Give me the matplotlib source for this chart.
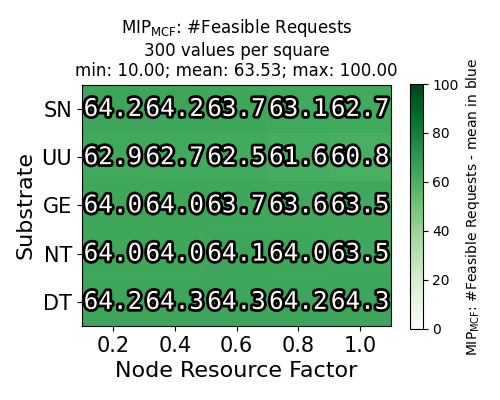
import numpy as np
import matplotlib
matplotlib.use("Agg")
import matplotlib.pyplot as plt
import matplotlib.patheffects as pe

# values (rows top to bottom)
substrates = ["SN", "UU", "GE", "NT", "DT"]
node_factors = ["0.2", "0.4", "0.6", "0.8", "1.0"]
mean_values = np.array([
    [64.2, 64.2, 63.7, 63.1, 62.7],
    [62.9, 62.7, 62.5, 61.6, 60.8],
    [64.0, 64.0, 63.7, 63.6, 63.5],
    [64.0, 64.0, 64.1, 64.0, 63.5],
    [64.2, 64.3, 64.3, 64.2, 64.3],
])
title_lines = [
    r"MIP$_{\mathrm{MCF}}$: #Feasible Requests",
    "300 values per square",
    "min: 10.00; mean: 63.53; max: 100.00",
]
cbar_label = r"MIP$_{\mathrm{MCF}}$: #Feasible Requests - mean in blue"


def main():
    fig = plt.figure(figsize=(5, 4), dpi=100)
    ax = fig.add_axes([0.164, 0.185, 0.618, 0.603])
    cax = fig.add_axes([0.82, 0.178, 0.025, 0.612])

    n_rows, n_cols = mean_values.shape
    # flip so the first row is drawn at the top
    mesh = ax.pcolormesh(mean_values[::-1], cmap="Greens", vmin=0, vmax=100)

    for i in range(n_rows):
        for j in range(n_cols):
            ax.text(j + 0.5, n_rows - i - 0.5, f"{mean_values[i, j]:.1f}",
                    ha="center", va="center", color="white",
                    family="DejaVu Sans Mono", fontsize=17.5,
                    path_effects=[pe.withStroke(linewidth=4, foreground="black")])

    ax.set_xticks(np.arange(n_cols) + 0.5)
    ax.set_xticklabels(node_factors, fontsize=15)
    ax.set_yticks(np.arange(n_rows) + 0.5)
    ax.set_yticklabels(substrates[::-1], fontsize=15)
    ax.set_xlim(0, n_cols)
    ax.set_ylim(0, n_rows)
    ax.set_xlabel("Node Resource Factor", fontsize=16)
    ax.set_ylabel("Substrate", fontsize=16)
    ax.set_title("\n".join(title_lines), fontsize=12)

    cb = fig.colorbar(mesh, cax=cax)
    cb.set_ticks([0, 20, 40, 60, 80, 100])
    cb.set_label(cbar_label, fontsize=10)

    fig.savefig("out.png", dpi=100)


if __name__ == "__main__":
    main()
